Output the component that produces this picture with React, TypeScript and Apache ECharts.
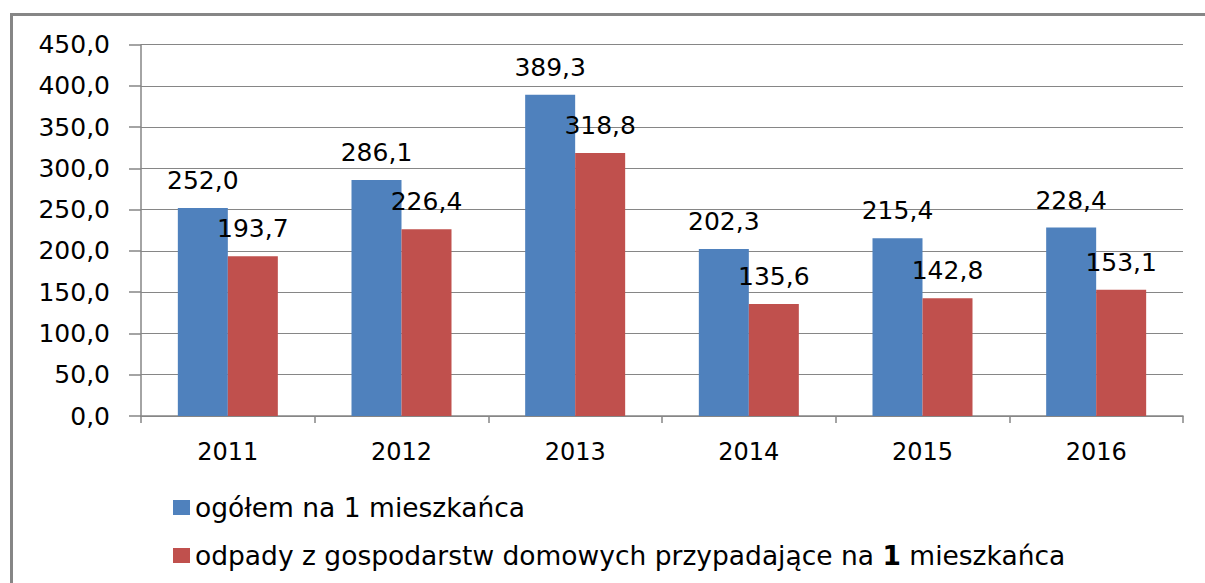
import React, { useEffect, useRef } from "react";
import * as echarts from "echarts";

const categories = ["2011", "2012", "2013", "2014", "2015", "2016"];
const seriesNames = [
  "ogółem na 1 mieszkańca",
  "odpady z gospodarstw domowych przypadające na 1 mieszkańca",
];
const totalPerCapita = [252.0, 286.1, 389.3, 202.3, 215.4, 228.4];
const householdPerCapita = [193.7, 226.4, 318.8, 135.6, 142.8, 153.1];

const fmt = (v: number) => v.toFixed(1).replace(".", ",");
const FONT = "DejaVu Sans";

export default function App() {
  const ref = useRef<HTMLDivElement>(null);
  useEffect(() => {
    if (!ref.current) return;
    const chart = echarts.init(ref.current, undefined, { renderer: "svg" });
    const labelCommon = {
      show: true,
      position: "top" as const,
      distance: 15,
      color: "#000",
      fontFamily: FONT,
      fontSize: 25,
      formatter: (p: any) => fmt(p.value),
    };
    chart.setOption({
      animation: false,
      backgroundColor: "#fff",
      graphic: [
        {
          type: "rect",
          shape: { x: 11.5, y: 14.5, width: 1300, height: 800 },
          style: { fill: "none", stroke: "#868686", lineWidth: 3 },
          silent: true,
        },
      ],
      grid: { left: 141, top: 44.7, width: 1042, height: 371.3 },
      xAxis: {
        type: "category",
        data: categories,
        axisLine: { lineStyle: { color: "#868686", width: 1.5 } },
        axisTick: { show: true, length: 7, lineStyle: { color: "#868686", width: 1.5 } },
        axisLabel: { color: "#000", fontFamily: FONT, fontSize: 24, margin: 24 },
      },
      yAxis: {
        type: "value",
        min: 0,
        max: 450,
        interval: 50,
        axisLine: { show: true, lineStyle: { color: "#868686", width: 1.5 } },
        axisTick: { show: true, length: 12, lineStyle: { color: "#868686", width: 1.5 } },
        splitLine: { lineStyle: { color: "#868686", width: 1.2 } },
        axisLabel: {
          color: "#000",
          fontFamily: FONT,
          fontSize: 25,
          margin: 31,
          formatter: (v: number) => fmt(v),
        },
      },
      legend: {
        orient: "vertical",
        left: 168,
        top: 489,
        itemWidth: 17,
        itemHeight: 15,
        itemGap: 21,
        icon: "rect",
        data: seriesNames,
        textStyle: {
          color: "#000",
          fontFamily: FONT,
          fontSize: 26.5,
          padding: [0, 0, 0, 0],
          rich: {
            a: { color: "#000", fontFamily: FONT, fontSize: 26.5 },
            b: { color: "#000", fontFamily: FONT, fontSize: 26.5, fontWeight: "bold" },
          },
        },
        formatter: (name: string) =>
          name === seriesNames[1]
            ? "{a|odpady z gospodarstw domowych przypadające na }{b|1}{a| mieszkańca}"
            : name,
      },
      series: [
        {
          name: seriesNames[0],
          type: "bar",
          data: totalPerCapita,
          barWidth: 50,
          barGap: "0%",
          itemStyle: { color: "#4F81BD" },
          label: labelCommon,
        },
        {
          name: seriesNames[1],
          type: "bar",
          data: householdPerCapita,
          barWidth: 50,
          barGap: "0%",
          itemStyle: { color: "#C0504D" },
          label: labelCommon,
        },
      ],
    });
    return () => chart.dispose();
  }, []);
  return (
    <div
      ref={ref}
      style={{ position: "fixed", left: 0, top: 0, width: 1205, height: 583 }}
    />
  );
}
